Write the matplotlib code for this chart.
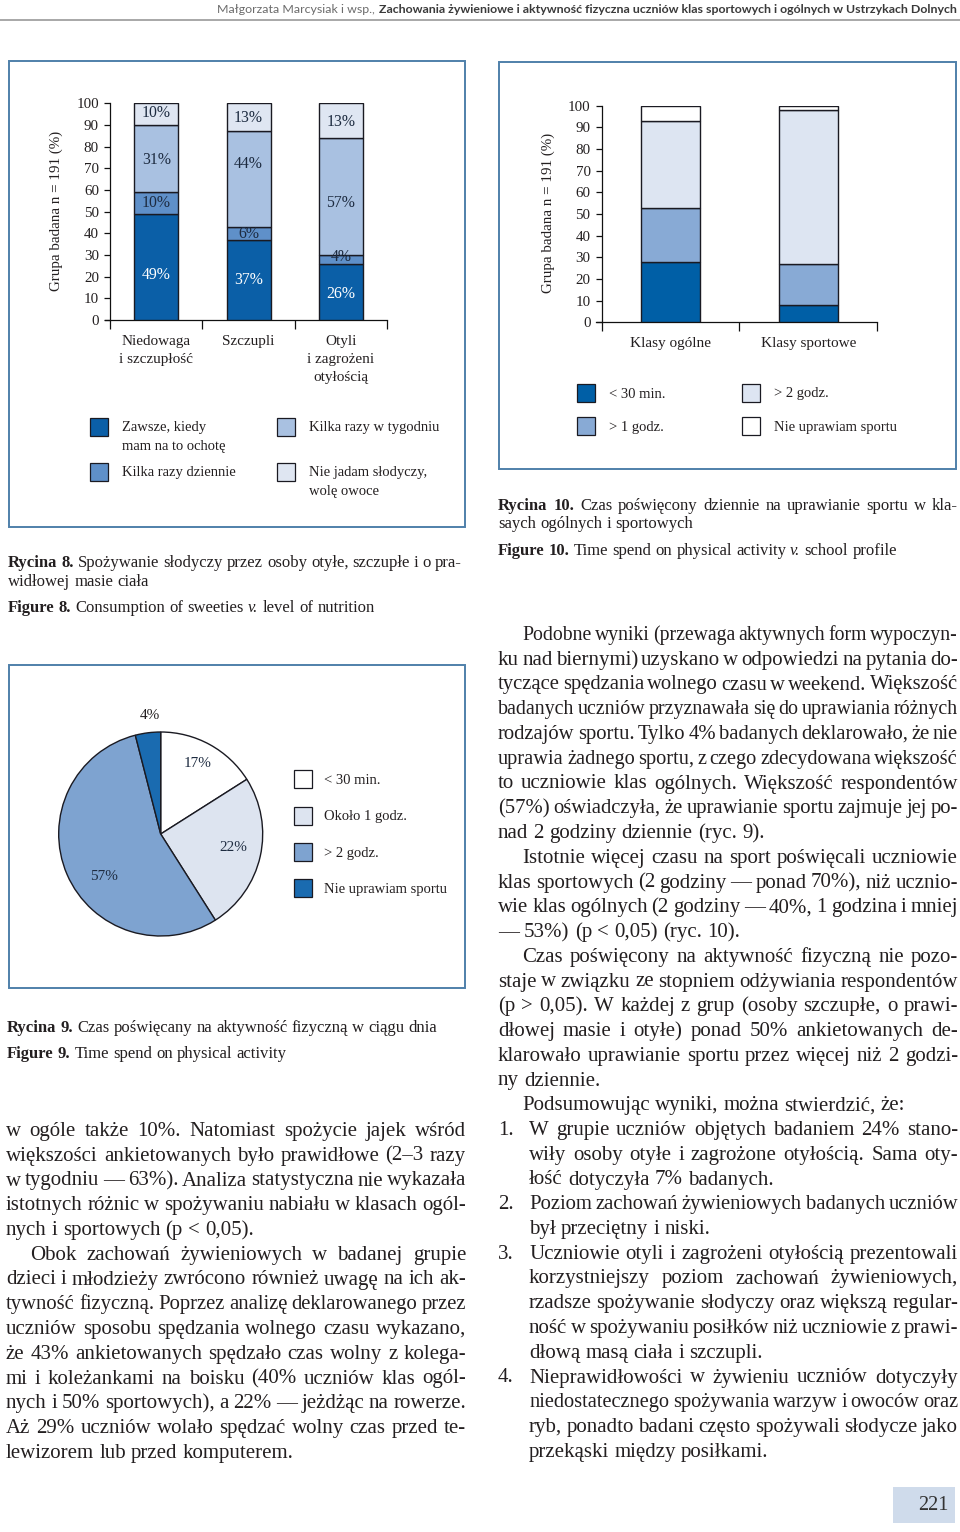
import math
import matplotlib
matplotlib.use('Agg')
import matplotlib.pyplot as plt
from matplotlib.patches import Rectangle
from matplotlib.lines import Line2D

W, H = 960, 1532
SERIF = 'Liberation Serif'
INK = '#231f20'
NAVY = '#1d2b40'
FRAME = '#4f80aa'
EDGE = '#1a1a22'

plt.rcParams['font.family'] = SERIF

# ---- data -------------------------------------------------------------
weight_groups = ['Niedowaga\ni szczupłość', 'Szczupli', 'Otyli\ni zagrożeni\notyłością']
sweets_levels = ['Zawsze, kiedy\nmam na to ochotę', 'Kilka razy dziennie',
                 'Kilka razy w tygodniu', 'Nie jadam słodyczy,\nwolę owoce']
# segment heights as drawn (bottom -> top)
sweets_pct = [[49, 10, 31, 10], [37, 6, 44, 13], [26, 4, 54, 16]]
sweets_labels = [['49%', '10%', '31%', '10%'],
                 ['37%', '6%', '44%', '13%'],
                 ['26%', '4%', '57%', '13%']]

school_groups = ['Klasy ogólne', 'Klasy sportowe']
sport_levels = ['< 30 min.', '> 1 godz.', '> 2 godz.', 'Nie uprawiam sportu']
sport_pct = [[28, 25, 40, 7], [8, 19, 71, 2]]

activity_levels = ['< 30 min.', 'Około 1 godz.', '> 2 godz.', 'Nie uprawiam sportu']
activity_pct = [16, 25, 55, 4]
activity_labels = ['17%', '22%', '57%', '4%']

sweets_colors = ['#0b5fa7', '#5f90c9', '#a9c1e1', '#dfe6f2']
sport_colors = ['#005fa6', '#88aad5', '#dde5f2', '#ffffff']
pie_colors = ['#ffffff', '#dde4f0', '#7ea3d0', '#1a6bb0']

# ---- text -------------------------------------------------------------
header_author = 'Małgorzata Marcysiak i wsp.,'
header_title = ('Zachowania żywieniowe i aktywność fizyczna uczniów klas sportowych '
                'i ogólnych w Ustrzykach Dolnych')

cap8 = ['**Rycina 8.** Spożywanie słodyczy przez osoby otyłe, szczupłe i o pra-',
        'widłowej masie ciała']
cap8_en = '**Figure 8.** Consumption of sweeties __v.__ level of nutrition'
cap9 = '**Rycina 9.** Czas poświęcany na aktywność fizyczną w ciągu dnia'
cap9_en = '**Figure 9.**  Time spend on physical activity'
cap10 = ['**Rycina 10.** Czas poświęcony dziennie na uprawianie sportu w kla-',
         'saych ogólnych i sportowych']
cap10_en = '**Figure 10.** Time spend on physical activity __v.__ school profile'

left_blocks = [
    ('p', False, ['w ogóle także 10%. Natomiast spożycie jajek wśród',
                  'większości ankietowanych było prawidłowe (2–3 razy',
                  'w tygodniu — 63%). Analiza statystyczna nie wykazała',
                  'istotnych różnic w spożywaniu nabiału w klasach ogól-',
                  'nych i sportowych (p < 0,05).']),
    ('p', True, ['Obok zachowań żywieniowych w badanej grupie',
                 'dzieci i młodzieży zwrócono również uwagę na ich ak-',
                 'tywność fizyczną. Poprzez analizę deklarowanego przez',
                 'uczniów sposobu spędzania wolnego czasu wykazano,',
                 'że 43% ankietowanych spędzało czas wolny z kolega-',
                 'mi i koleżankami na boisku (40% uczniów klas ogól-',
                 'nych i 50% sportowych), a 22% — jeżdżąc na rowerze.',
                 'Aż 29% uczniów wolało spędzać wolny czas przed te-',
                 'lewizorem lub przed komputerem.']),
]

right_blocks = [
    ('p', True, ['Podobne wyniki (przewaga aktywnych form wypoczyn-',
                 'ku nad biernymi) uzyskano w odpowiedzi na pytania do-',
                 'tyczące spędzania wolnego czasu w weekend. Większość',
                 'badanych uczniów przyznawała się do uprawiania różnych',
                 'rodzajów sportu. Tylko 4% badanych deklarowało, że nie',
                 'uprawia żadnego sportu, z czego zdecydowana większość',
                 'to uczniowie klas ogólnych. Większość respondentów',
                 '(57%) oświadczyła, że uprawianie sportu zajmuje jej po-',
                 'nad 2 godziny dziennie (ryc. 9).']),
    ('p', True, ['Istotnie więcej czasu na sport poświęcali uczniowie',
                 'klas sportowych (2 godziny — ponad 70%), niż ucznio-',
                 'wie klas ogólnych (2 godziny — 40%, 1 godzina i mniej',
                 '— 53%) (p < 0,05) (ryc. 10).']),
    ('p', True, ['Czas poświęcony na aktywność fizyczną nie pozo-',
                 'staje w związku ze stopniem odżywiania respondentów',
                 '(p > 0,05). W każdej z grup (osoby szczupłe, o prawi-',
                 'dłowej masie i otyłe) ponad 50% ankietowanych de-',
                 'klarowało uprawianie sportu przez więcej niż 2 godzi-',
                 'ny dziennie.']),
    ('p', True, ['Podsumowując wyniki, można stwierdzić, że:']),
    ('li', '1.', ['W grupie uczniów objętych badaniem 24% stano-',
                  'wiły osoby otyłe i zagrożone otyłością. Sama oty-',
                  'łość dotyczyła 7% badanych.']),
    ('li', '2.', ['Poziom zachowań żywieniowych badanych uczniów',
                  'był przeciętny i niski.']),
    ('li', '3.', ['Uczniowie otyli i zagrożeni otyłością prezentowali',
                  'korzystniejszy poziom zachowań żywieniowych,',
                  'rzadsze spożywanie słodyczy oraz większą regular-',
                  'ność w spożywaniu posiłków niż uczniowie z prawi-',
                  'dłową masą ciała i szczupli.']),
    ('li', '4.', ['Nieprawidłowości w żywieniu uczniów dotyczyły',
                  'niedostatecznego spożywania warzyw i owoców oraz',
                  'ryb, ponadto badani często spożywali słodycze jako',
                  'przekąski między posiłkami.']),
]

fig = plt.figure(figsize=(W / 100, H / 100), dpi=100)
fig.patch.set_facecolor('white')
renderer = fig.canvas.get_renderer()


def put(x, y, s, size, ha='left', va='baseline', **kw):
    kw.setdefault('color', INK)
    kw.setdefault('family', SERIF)
    return fig.text(x / W, 1 - y / H, s, fontsize=size, ha=ha, va=va, **kw)


def axes_px(x0, y0, x1, y1):
    return fig.add_axes([x0 / W, 1 - y1 / H, (x1 - x0) / W, (y1 - y0) / H])


def rect_px(x0, y0, x1, y1, **kw):
    fig.add_artist(Rectangle((x0 / W, 1 - y1 / H), (x1 - x0) / W, (y1 - y0) / H,
                             transform=fig.transFigure, **kw))


def parse(line):
    out, bold, ital = [], False, False
    for w in line.split():
        if w.startswith('**'):
            bold, w = True, w[2:]
        if w.startswith('__'):
            ital, w = True, w[2:]
        wb, wi = bold, ital
        if w.endswith('**'):
            bold, w = False, w[:-2]
        if w.endswith('__'):
            ital, w = False, w[:-2]
        out.append((w, 'bold' if wb else 'normal', 'italic' if wi else 'normal'))
    return out


def set_line(line, x0, x1, y, size, justify=True, min_gap=0.15):
    tokens = parse(line)
    while True:
        arts = [put(x0, y, t, size, fontweight=wt, fontstyle=st) for t, wt, st in tokens]
        widths = [a.get_window_extent(renderer).width for a in arts]
        em = size * 100 / 72
        gaps = len(arts) - 1
        if not justify or sum(widths) + gaps * min_gap * em <= x1 - x0 or size < 6:
            break
        for a in arts:
            a.remove()
        size *= 0.99
    gap = (x1 - x0 - sum(widths)) / gaps if (justify and gaps) else 0.25 * em
    x = x0
    for a, w in zip(arts, widths):
        a.set_x(x / W)
        x += w + gap


def column(blocks, x0, x1, y0, step, size=15, indent=24, hang=31):
    y = y0
    for kind, flag, lines in blocks:
        for i, line in enumerate(lines):
            last = i == len(lines) - 1
            if kind == 'p':
                left = x0 + (indent if (flag and i == 0) else 0)
            else:
                left = x0 + hang
                if i == 0:
                    put(x0, y, flag, size)
            set_line(line, left, x1, y, size, justify=not last)
            y += step


# ---- header -----------------------------------------------------------
hsize = 10
a1 = put(0, 13, header_author, hsize, family='Lato', color='#6b6b6b')
a2 = put(0, 13, header_title, hsize, family='Lato', fontweight='bold', color='#3a3a3a')
wtot = a1.get_window_extent(renderer).width + a2.get_window_extent(renderer).width + 4
hsize *= 740 / wtot
a1.set_fontsize(hsize)
a2.set_fontsize(hsize)
w2 = a2.get_window_extent(renderer).width
a2.set_x((957 - w2) / W)
a1.set_ha('right')
a1.set_x((957 - w2 - 4) / W)
fig.add_artist(Line2D([0, 1], [1 - 19.5 / H] * 2, transform=fig.transFigure,
                      color='#9a9a9a', lw=1.2))

# ---- frames -----------------------------------------------------------
for box in [(8.7, 61, 464.7, 527), (499, 61.7, 956, 469), (9, 665, 465, 988)]:
    rect_px(*box, fill=False, ec=FRAME, lw=1.4)


def stacked(ax, pct, colors, width, xmin):
    n = len(pct)
    bottoms = [0] * n
    for j, c in enumerate(colors):
        vals = [row[j] for row in pct]
        ax.bar([i + 0.5 for i in range(n)], vals, width, bottom=bottoms, color=c,
               edgecolor=EDGE, linewidth=1.0, zorder=3)
        bottoms = [b + v for b, v in zip(bottoms, vals)]
    ax.set_xlim(xmin, n)
    ax.set_ylim(0, 100)
    for s in ('top', 'right'):
        ax.spines[s].set_visible(False)
    for s in ('left', 'bottom'):
        ax.spines[s].set_linewidth(0.9)
        ax.spines[s].set_color('#111111')
    ax.spines['left'].set_position(('data', 0))
    ax.set_yticks(range(0, 101, 10))
    ax.set_xticks(range(n + 1))
    ax.set_xticklabels([])
    ax.tick_params(axis='y', direction='out', length=4.5, width=0.9, labelsize=10.8,
                   pad=3.5, colors='#111111', labelcolor=INK)
    ax.tick_params(axis='x', direction='out', length=6.5, width=0.9, colors='#111111')
    ax.patch.set_alpha(0)


# ---- figure 8: sweets ---------------------------------------------------
sweets_label_y = [[20.8, 53.8, 74, 95.4], [18.5, 39.5, 72, 93], [11.8, 29.2, 53.8, 91.5]]
ax8 = axes_px(104.5, 103.3, 387, 320)
stacked(ax8, sweets_pct, sweets_colors, 0.477, -0.06)
for i, labels in enumerate(sweets_labels):
    for j, s in enumerate(labels):
        ax8.text(i + 0.5, sweets_label_y[i][j], s, ha='center', va='center', fontsize=11.3,
                 color='white' if j == 0 else NAVY, zorder=5)
for i, g in enumerate(weight_groups):
    ax8.annotate(g, xy=(i + 0.5, 0), xycoords=ax8.get_xaxis_transform(),
                 xytext=(0, -10.5), textcoords='offset points', ha='center', va='top',
                 fontsize=11, linespacing=1.5, color=INK)
put(56, 211, 'Grupa badana n = 191 (%)', 10.8, ha='center', va='center', rotation=90)

sweets_legend_pos = [(89.7, 427), (89.7, 472), (277, 427), (277, 472)]
for (x, y), c, s in zip(sweets_legend_pos, sweets_colors, sweets_levels):
    rect_px(x, y - 9, x + 18, y + 9, fc=c, ec=EDGE, lw=0.9)
    for k, part in enumerate(s.split('\n')):
        put(x + 32, y + 4 + 19 * k, part, 10.5)

set_line(cap8[0], 8, 462, 566.7, 12)
set_line(cap8[1], 8, 462, 585.5, 12, justify=False)
set_line(cap8_en, 8, 462, 611.7, 12, justify=False)

# ---- figure 10: sport by school ----------------------------------------
ax10 = axes_px(596, 105.7, 877.3, 322.3)
stacked(ax10, sport_pct, sport_colors, 0.43, -0.041)
for i, g in enumerate(school_groups):
    ax10.annotate(g, xy=(i + 0.5, 0), xycoords=ax10.get_xaxis_transform(),
                  xytext=(0, -10.5), textcoords='offset points', ha='center', va='top',
                  fontsize=11, color=INK)
put(548, 213, 'Grupa badana n = 191 (%)', 10.8, ha='center', va='center', rotation=90)

sport_legend_pos = [(577, 393), (577, 426), (742, 393), (742, 426)]
for (x, y), c, s in zip(sport_legend_pos, sport_colors, sport_levels):
    rect_px(x, y - 9, x + 18, y + 9, fc=c, ec=EDGE, lw=0.9)
    put(x + 32, y + 4.5, s, 10.5)

set_line(cap10[0], 498, 958, 510, 12)
set_line(cap10[1], 498, 958, 528.5, 12, justify=False)
set_line(cap10_en, 498, 958, 555, 12, justify=False)

# ---- figure 9: pie ------------------------------------------------------
cx, cy, R = 160.7, 834, 102
ax9 = axes_px(cx - R, cy - R, cx + R, cy + R)
wedges, _ = ax9.pie(activity_pct, colors=pie_colors, startangle=90, counterclock=False,
                    radius=1, wedgeprops=dict(edgecolor=EDGE, linewidth=1.0))
ax9.set_xlim(-1, 1)
ax9.set_ylim(-1, 1)
ax9.set_aspect('equal')
ax9.axis('off')
# label placement: (angle in degrees, radius as fraction of R)
pie_label_pos = [(62.2, 0.78), (-10.4, 0.72), (217, 0.69), (95.3, 1.17)]
for s, (ang, r) in zip(activity_labels, pie_label_pos):
    a = math.radians(ang)
    ax9.text(r * math.cos(a), r * math.sin(a), s, ha='center', va='center',
             fontsize=11, color=NAVY if r < 1 else INK, clip_on=False)

pie_legend_y = [779.3, 815.7, 852.3, 888.3]
for y, c, s in zip(pie_legend_y, pie_colors, activity_levels):
    rect_px(294, y - 9, 312, y + 9, fc=c, ec=EDGE, lw=0.9)
    put(324, y + 4.7, s, 10.5)

set_line(cap9, 7, 462, 1031.5, 12, justify=False)
set_line(cap9_en, 7, 462, 1058, 12, justify=False)

# ---- body text ----------------------------------------------------------
column(left_blocks, 6, 466, 1136, 24.75)
column(right_blocks, 498, 958, 640, 24.75)

# ---- page number --------------------------------------------------------
rect_px(892.7, 1486.7, 955, 1523.3, fc='#cfdbeb', ec='none')
put(933, 1505, '221', 14.5, ha='center', va='center', color='#333333')

fig.savefig('out.png', dpi=100, facecolor='white')
